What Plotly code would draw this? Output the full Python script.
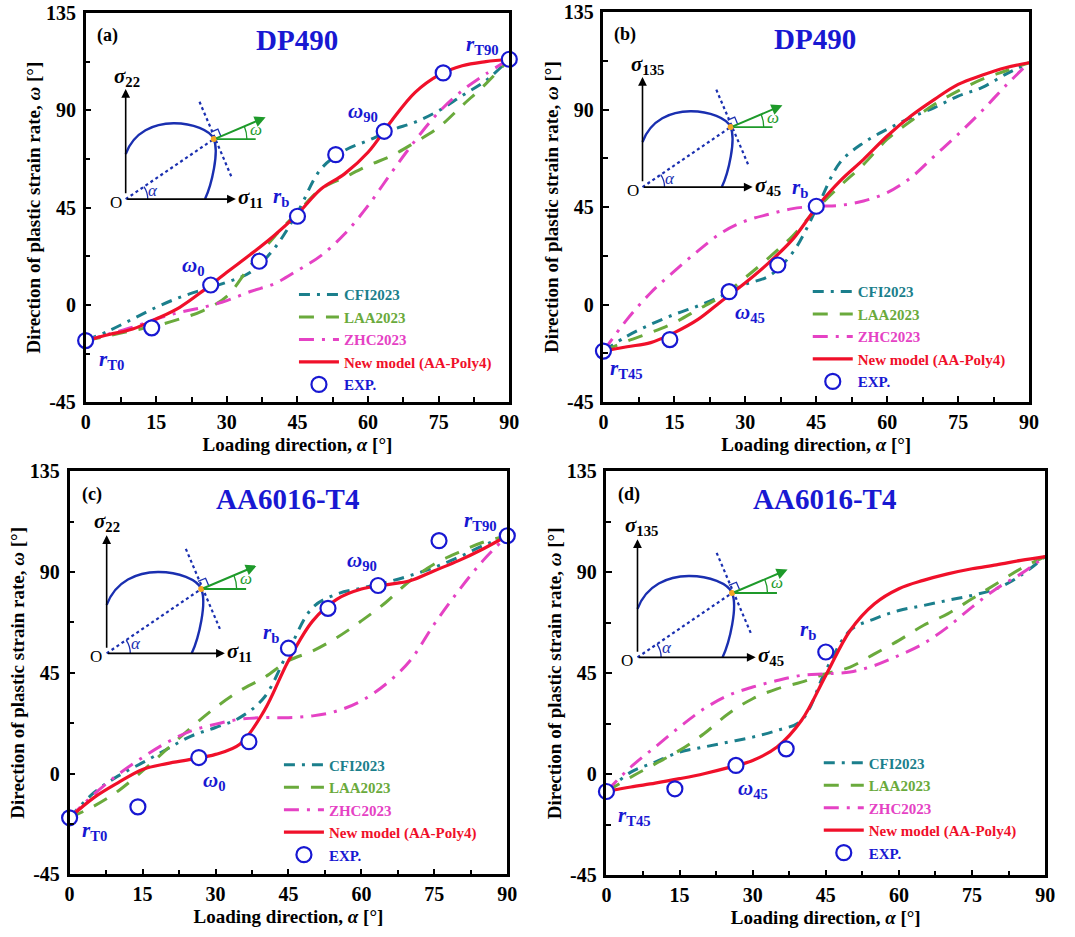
import math
import plotly.graph_objects as go

# ---------------- data ----------------
alpha = [0, 5, 10, 15, 20, 25, 30, 35, 40, 45, 50, 55, 60, 65, 70, 75, 80, 85, 90]

# (a) DP490, sigma11-sigma22 plane
a_cfi = [-16.5, -11.9, -6.5, -1.1, 3.5, 7.1, 10.5, 15.1, 25.9, 42.8, 62.9, 71.4, 76.0, 80.9, 84.5, 89.8, 96.8, 103.7, 113.6]
a_laa = [-16.5, -14.2, -11.9, -9.6, -6.5, -2.6, 4.0, 18.2, 31.3, 42.8, 53.6, 59.0, 64.4, 69.0, 75.2, 82.1, 92.2, 102.2, 113.6]
a_zhc = [-16.5, -13.4, -10.3, -6.5, -3.4, -1.1, 2.0, 6.2, 9.7, 15.9, 22.8, 32.8, 45.9, 61.3, 76.0, 89.1, 99.1, 106.8, 113.6]
a_new = [-16.5, -13.7, -11.1, -6.5, -1.1, 6.6, 15.1, 23.3, 32.0, 42.0, 53.6, 60.6, 70.6, 85.2, 98.3, 106.3, 110.6, 112.5, 113.6]
a_exp_x = [0, 14.04, 26.57, 36.87, 45, 53.13, 63.43, 75.96, 90]
a_exp_y = [-16.5, -10.6, 9.2, 20.2, 41.0, 69.5, 80.3, 107.3, 113.6]

# (b) DP490, sigma45-sigma135 plane
b_cfi = [-21.4, -14.5, -9.1, -4.5, -0.6, 4.0, 9.4, 13.2, 24.0, 44.0, 65.5, 74.7, 80.9, 86.3, 90.9, 96.2, 100.1, 106.2, 111.6]
b_laa = [-21.4, -16.8, -12.9, -8.3, -2.2, 4.0, 12.5, 21.7, 31.7, 44.0, 54.7, 64.7, 76.3, 84.7, 92.4, 98.6, 103.9, 107.8, 111.6]
b_zhc = [-21.4, -6.8, 5.5, 15.5, 24.8, 33.2, 38.6, 41.7, 44.3, 45.4, 45.8, 47.8, 51.7, 58.6, 68.6, 78.6, 89.3, 100.9, 111.6]
b_new = [-21.4, -19.4, -17.5, -12.9, -6.8, 1.7, 10.1, 19.4, 30.1, 44.7, 57.0, 67.0, 77.8, 87.0, 94.7, 101.6, 105.8, 109.3, 111.6]
b_exp_x = [0, 14.04, 26.57, 36.87, 45]
b_exp_y = [-21.4, -16.1, 6.0, 18.3, 45.4]

# (c) AA6016-T4, sigma11-sigma22 plane
c_cfi = [-19.7, -8.5, -1.0, 4.9, 10.9, 16.8, 20.6, 25.0, 34.0, 54.8, 74.2, 80.2, 82.8, 85.4, 88.4, 92.1, 96.6, 101.8, 106.2]
c_laa = [-19.7, -14.5, -7.7, 1.2, 10.9, 20.6, 29.5, 37.0, 42.9, 50.4, 54.8, 60.8, 68.2, 76.4, 86.1, 93.6, 98.8, 103.3, 106.2]
c_zhc = [-19.7, -9.2, -0.3, 7.2, 13.9, 19.1, 22.1, 24.3, 25.0, 25.0, 25.8, 28.0, 32.5, 39.9, 50.4, 66.8, 81.7, 95.1, 106.2]
c_new = [-19.7, -10.7, -4.0, 1.9, 4.5, 6.4, 8.6, 13.1, 28.0, 50.4, 68.2, 77.9, 82.4, 84.3, 86.1, 90.6, 95.1, 100.3, 106.2]
c_exp_x = [0, 14.04, 26.57, 36.87, 45, 53.13, 63.43, 75.96, 90]
c_exp_y = [-19.7, -14.8, 7.2, 14.3, 56.0, 73.8, 84.0, 104.0, 106.2]

# (d) AA6016-T4, sigma45-sigma135 plane
d_cfi = [-7.6, 1.0, 5.5, 9.9, 12.2, 14.4, 16.6, 19.6, 24.0, 46.3, 64.1, 69.3, 73.0, 75.2, 77.5, 79.7, 82.7, 88.6, 97.0]
d_laa = [-7.6, -1.2, 4.7, 10.7, 18.1, 27.0, 33.7, 38.1, 41.1, 44.8, 47.8, 53.7, 59.7, 66.3, 71.5, 78.2, 84.9, 91.6, 97.0]
d_zhc = [-7.6, 3.3, 12.2, 21.1, 29.2, 35.2, 38.9, 41.8, 44.1, 44.8, 45.6, 48.5, 53.0, 58.2, 65.6, 74.5, 82.7, 89.3, 97.0]
d_new = [-7.6, -5.6, -3.9, -1.9, 0.3, 3.0, 6.2, 12.2, 24.0, 44.1, 64.1, 76.0, 82.7, 86.4, 89.3, 91.6, 93.3, 95.3, 97.0]
d_exp_x = [0, 14.04, 26.57, 36.87, 45]
d_exp_y = [-7.6, -6.4, 4.0, 11.4, 54.5]

series_names = ["CFI2023", "LAA2023", "ZHC2023", "New model (AA-Poly4)", "EXP."]
materials = ["DP490", "DP490", "AA6016-T4", "AA6016-T4"]
panel_tags = ["(a)", "(b)", "(c)", "(d)"]
x_ticks = [0, 15, 30, 45, 60, 75, 90]
y_ticks = [-45, 0, 45, 90, 135]
y_ticktext = ["-45", "0", "45", "90", "135"]

# point labels: (symbol, subscript, x, y)
a_labels = [("r", "T0", 5.4, -25.5), ("ω", "0", 23.0, 18.0), ("r", "b", 41.6, 50.0), ("ω", "90", 58.9, 89.0), ("r", "T90", 84.4, 120.0)]
b_labels = [("r", "T45", 4.8, -29.8), ("ω", "45", 30.9, -3.7), ("r", "b", 41.5, 54.0)]
c_labels = [("r", "T0", 5.1, -25.6), ("ω", "0", 29.8, -3.3), ("r", "b", 41.4, 63.0), ("ω", "90", 60.2, 95.0), ("r", "T90", 84.5, 113.0)]
d_labels = [("r", "T45", 5.8, -18.3), ("ω", "45", 30.1, -6.4), ("r", "b", 41.4, 64.1)]

# ---------------- styling ----------------
W, H = 1075, 937
FONT = "Liberation Serif"
TEAL = "#1b7f8c"
GREEN = "#6aaa3c"
MAGENTA = "#e542c4"
RED = "#f0102a"
BLUE = "#1818d2"
colors = [TEAL, GREEN, MAGENTA, RED, BLUE]
dashes = ["11px,7px,3px,7px", "15px,12px", "15px,8px,3px,8px", "solid"]

# correction of the page-to-picture mapping observed in the renders
SX, CX = 0.9845, 6.5
SY, CY = 0.976, 12.0


def fx(x):
    return (x - CX) / SX


def fy(y):
    return (y - CY) / SY


# panel plot-area pixel boxes in the reference picture (left, top, right, bottom)
boxes = [(87, 14, 510, 403), (604, 13, 1029, 403), (71, 472, 508, 875), (607, 472, 1045, 876)]
legend_pos = [(295, 279), (808, 276), (280, 749), (819, 747)]
inset_origin = [(127, 200, 110, "22", "11"), (643, 188, 110, "135", "45"),
                (108, 654, 118, "22", "11"), (638, 658, 118, "135", "45")]

panels = [
    (a_cfi, a_laa, a_zhc, a_new, a_exp_x, a_exp_y, a_labels),
    (b_cfi, b_laa, b_zhc, b_new, b_exp_x, b_exp_y, b_labels),
    (c_cfi, c_laa, c_zhc, c_new, c_exp_x, c_exp_y, c_labels),
    (d_cfi, d_laa, d_zhc, d_new, d_exp_x, d_exp_y, d_labels),
]

fig = go.Figure()


def px2paper(x, y):
    return fx(x) / W, 1 - fy(y) / H


shapes = []
annotations = []
INK = "#1a2fb0"
GRN = "#1e9a2a"

for i, (cfi, laa, zhc, new, ex, ey, labels) in enumerate(panels):
    k = "" if i == 0 else str(i + 1)
    xa, ya = "x" + k, "y" + k
    leg = "legend" + k
    for j, ys in enumerate([cfi, laa, zhc, new]):
        fig.add_trace(go.Scatter(
            x=alpha, y=ys, mode="lines", name=f"<span style='color:{colors[j]}'>{series_names[j]}</span>",
            line=dict(color=colors[j], width=3.2 if j == 3 else 3, dash=dashes[j], shape="spline", smoothing=1.0),
            xaxis=xa, yaxis=ya, legend=leg, hoverinfo="skip"))
    fig.add_trace(go.Scatter(
        x=ex, y=ey, mode="markers", name=f"<span style='color:{BLUE}'>{series_names[4]}</span>",
        marker=dict(symbol="circle", size=15, color="white", line=dict(color=BLUE, width=2.2)),
        cliponaxis=False, xaxis=xa, yaxis=ya, legend=leg))

    l, t, r, b = boxes[i]
    axis_common = dict(showline=True, linecolor="black", linewidth=2.5, mirror=True,
                       ticks="inside", ticklen=6, tickwidth=2, tickcolor="black",
                       showgrid=False, zeroline=False,
                       tickfont=dict(family=FONT, size=20, color="black", weight="bold"))
    fig.update_layout(**{
        "xaxis" + k: dict(domain=[fx(l) / W, fx(r) / W], range=[0, 90], tickvals=x_ticks, anchor=ya,
                          minor=dict(ticks="inside", dtick=7.5, ticklen=5, tickwidth=2, tickcolor="black", tick0=0),
                          title=dict(text="Loading direction, <i>α</i> [°]", standoff=6,
                                     font=dict(family=FONT, size=19, color="black", weight="bold")),
                          **axis_common),
        "yaxis" + k: dict(domain=[1 - fy(b) / H, 1 - fy(t) / H], range=[-45, 135],
                          tickvals=y_ticks, ticktext=y_ticktext, anchor=xa,
                          minor=dict(ticks="inside", dtick=22.5, ticklen=5, tickwidth=2, tickcolor="black", tick0=-45),
                          ticklabelstandoff=3,
                          title=dict(text="Direction of plastic strain rate, <i>ω</i> [°]", standoff=1,
                                     font=dict(family=FONT, size=19, color="black", weight="bold")),
                          **axis_common),
        leg: dict(x=fx(legend_pos[i][0]) / W, y=1 - fy(legend_pos[i][1]) / H, xanchor="left", yanchor="top",
                  bgcolor="rgba(0,0,0,0)", borderwidth=0, tracegroupgap=0, itemwidth=40,
                  font=dict(family=FONT, size=15, weight="bold")),
    })

    # title and panel tag
    annotations.append(dict(x=44.8, y=122.5, xref=xa, yref=ya, text=f"<b>{materials[i]}</b>", showarrow=False,
                            xanchor="center", yanchor="middle",
                            font=dict(family=FONT, size=29, color=BLUE)))
    annotations.append(dict(x=4.6, y=124.5, xref=xa, yref=ya, text=f"<b>{panel_tags[i]}</b>", showarrow=False,
                            xanchor="center", yanchor="middle",
                            font=dict(family=FONT, size=18, color="black")))
    for sym, sub, lx, ly in labels:
        annotations.append(dict(x=lx, y=ly, xref=xa, yref=ya, showarrow=False,
                                xanchor="center", yanchor="middle",
                                text=f"<b><i>{sym}</i><sub>{sub}</sub></b>",
                                font=dict(family=FONT, size=21, color=BLUE)))

    # ---------------- inset schematic ----------------
    ox, oy, L, sy, sx = inset_origin[i]

    def P(u, v):
        return px2paper(ox + u * L, oy - v * L)

    def pstr(u, v):
        a, b_ = P(u, v)
        return f"{a:.5f},{b_:.5f}"

    # yield locus curve
    path = ("M " + pstr(0, 0.41) + " C " + pstr(0.15, 0.82) + " " + pstr(0.74, 0.70) + " " + pstr(0.80, 0.545)
            + " C " + pstr(0.85, 0.43) + " " + pstr(0.78, 0.13) + " " + pstr(0.72, 0.0))
    shapes.append(dict(type="path", path=path, xref="paper", yref="paper", line=dict(color=INK, width=2.4)))
    # dotted radial line O -> P
    x0, y0 = P(0, 0); x1, y1 = P(0.80, 0.545)
    shapes.append(dict(type="line", x0=x0, y0=y0, x1=x1, y1=y1, xref="paper", yref="paper",
                       line=dict(color=INK, width=2.2, dash="dot")))
    # dotted tangent line
    x0, y0 = P(0.67, 0.885); x1, y1 = P(0.966, 0.188)
    shapes.append(dict(type="line", x0=x0, y0=y0, x1=x1, y1=y1, xref="paper", yref="paper",
                       line=dict(color=INK, width=2.2, dash="dot")))
    # green horizontal reference
    x0, y0 = P(0.80, 0.545); x1, y1 = P(1.18, 0.545)
    shapes.append(dict(type="line", x0=x0, y0=y0, x1=x1, y1=y1, xref="paper", yref="paper",
                       line=dict(color=GRN, width=1.8)))
    # right-angle marker
    path = "M " + pstr(0.773, 0.609) + " L " + pstr(0.837, 0.636) + " L " + pstr(0.864, 0.572)
    shapes.append(dict(type="path", path=path, xref="paper", yref="paper", line=dict(color=INK, width=1.3)))
    # alpha arc at O
    th = math.atan2(0.545, 0.80)
    ra = 0.2
    cr = ra / math.cos(th / 2)
    path = ("M " + pstr(ra, 0) + " Q " + pstr(cr * math.cos(th / 2), cr * math.sin(th / 2)) + " "
            + pstr(ra * math.cos(th), ra * math.sin(th)))
    shapes.append(dict(type="path", path=path, xref="paper", yref="paper", line=dict(color=INK, width=1.3)))
    # omega arc at P
    tw = math.atan2(0.198, 0.47)
    rw = 0.30
    cw = rw / math.cos(tw / 2)
    path = ("M " + pstr(0.80 + rw, 0.545) + " Q " + pstr(0.80 + cw * math.cos(tw / 2), 0.545 + cw * math.sin(tw / 2))
            + " " + pstr(0.80 + rw * math.cos(tw), 0.545 + rw * math.sin(tw)))
    shapes.append(dict(type="path", path=path, xref="paper", yref="paper", line=dict(color=GRN, width=1.3)))
    # orange point
    cx, cy = ox + 0.80 * L, oy - 0.545 * L
    a0, b0 = px2paper(cx - 3, cy - 3); a1, b1 = px2paper(cx + 3, cy + 3)
    shapes.append(dict(type="circle", x0=a0, y0=b1, x1=a1, y1=b0, xref="paper", yref="paper",
                       fillcolor="#f5a623", line=dict(width=0)))
    # axis arrows and green normal arrow
    for (u0, v0, u1, v1, col, wdt) in [(0, 0, 0, 1.0, "black", 1.6), (0, 0, 1.0, 0, "black", 1.6),
                                       (0.80, 0.545, 1.27, 0.743, GRN, 2.0)]:
        tx, ty = P(u1, v1)
        annotations.append(dict(x=tx, y=ty, xref="paper", yref="paper",
                                ax=(u0 - u1) * L / SX, ay=-(v0 - v1) * L / SY,
                                axref="pixel", ayref="pixel", showarrow=True, arrowhead=2, arrowsize=1.1,
                                arrowwidth=wdt, arrowcolor=col, text=" ", xanchor="center", yanchor="middle"))
    # inset texts
    for (u, v, txt, col, sz, anc) in [(-0.12, 1.11, f"<b><i>σ</i><sub>{sy}</sub></b>", "black", 21, "left"),
                                      (1.0, 0.01, f"<b><i>σ</i><sub>{sx}</sub></b>", "black", 21, "left"),
                                      (-0.09, -0.03, "O", "black", 17, "center"),
                                      (0.25, 0.08, "<i>α</i>", INK, 17, "center"),
                                      (1.18, 0.63, "<i>ω</i>", GRN, 17, "center")]:
        tx, ty = P(u, v)
        annotations.append(dict(x=tx, y=ty, xref="paper", yref="paper", text=txt, showarrow=False,
                                xanchor=anc, yanchor="middle",
                                font=dict(family=FONT, size=sz, color=col)))

fig.update_layout(width=W, height=H, margin=dict(l=0, r=0, t=0, b=0),
                  paper_bgcolor="white", plot_bgcolor="white",
                  shapes=shapes, annotations=annotations,
                  font=dict(family=FONT, color="black"))

fig.write_html("out.html")
